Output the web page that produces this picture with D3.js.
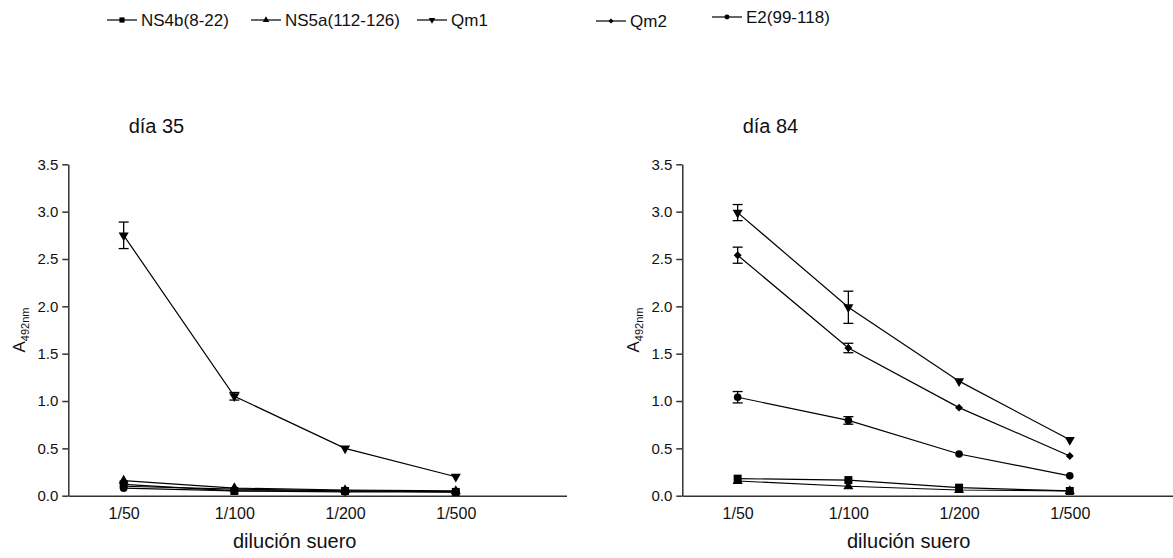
<!DOCTYPE html>
<meta charset="utf-8">
<script src="https://cdn.jsdelivr.net/npm/d3@7"></script>
<style>
  body { margin: 0; background: #fff; }
  text { font-family: "Liberation Sans", Arial, sans-serif; fill: #111; }
</style>
<body>
<script>

// dilution categories (x axis)
var dilutions = ["1/50", "1/100", "1/200", "1/500"]
var yTicks = [0.0, 0.5, 1.0, 1.5, 2.0, 2.5, 3.0, 3.5]

var seriesNames = ["NS4b(8-22)", "NS5a(112-126)", "Qm1", "Qm2", "E2(99-118)"]
var seriesSymbols = ["square", "triUp", "triDown", "diamond", "circle"]

// día 35
var d35_NS4b = [0.12, 0.05, 0.05, 0.04]
var d35_NS5a = [0.16, 0.08, 0.06, 0.05]
var d35_Qm1  = [2.75, 1.05, 0.50, 0.20]
var d35_Qm2  = [0.10, 0.07, 0.05, 0.04]
var d35_E2   = [0.08, 0.05, 0.04, 0.04]
var d35_Qm1_err = [0.14, 0.04, 0, 0]

// día 84
var d84_NS4b = [0.18, 0.165, 0.085, 0.05]
var d84_NS5a = [0.155, 0.10, 0.06, 0.05]
var d84_Qm1  = [2.99, 1.99, 1.21, 0.59]
var d84_Qm2  = [2.54, 1.56, 0.93, 0.42]
var d84_E2   = [1.04, 0.795, 0.44, 0.21]
var d84_Qm1_err = [0.085, 0.17, 0, 0]
var d84_Qm2_err = [0.085, 0.05, 0, 0]
var d84_E2_err  = [0.06, 0.04, 0, 0]

var zero = [0, 0, 0, 0]

var panels = [
  { title: "día 35", left: 68.3, values: [d35_NS4b, d35_NS5a, d35_Qm1, d35_Qm2, d35_E2],
    errors: [zero, zero, d35_Qm1_err, zero, zero] },
  { title: "día 84", left: 682.3, values: [d84_NS4b, d84_NS5a, d84_Qm1, d84_Qm2, d84_E2],
    errors: [zero, zero, d84_Qm1_err, d84_Qm2_err, d84_E2_err] }
]

var width = 1173, height = 558
var svg = d3.select("body").append("svg")
            .attr("width", width)
            .attr("height", height)

// marker shapes
function symbolPath(kind, big) {
  var k = big ? 1 : 0.65
  if (kind == "square") return d3.symbol().type(d3.symbolSquare).size(64 * k * k)()
  if (kind == "triUp" || kind == "triDown") return d3.symbol().type(d3.symbolTriangle).size(44 * k * k)()
  if (kind == "diamond") return d3.symbol().type(d3.symbolDiamond2).size(40 * k * k)()
  return d3.symbol().type(d3.symbolCircle).size(46 * k * k)()
}
function symbolTransform(kind, x, y) {
  return "translate(" + x + "," + y + ")" + (kind == "triDown" ? " rotate(180)" : "")
}

var y = d3.scaleLinear().domain([0, 3.5]).range([495.7, 164.3])
var line = d3.line()

panels.forEach(function(p) {
  var x = d3.scaleLinear().domain([-0.5, 4]).range([p.left, p.left + 498.2])
  var g = svg.append("g")

  // y axis
  var ya = g.append("g")
    .attr("transform", "translate(" + p.left + ",0)")
    .call(d3.axisLeft(y).tickValues(yTicks).tickFormat(d3.format(".1f")).tickSize(6).tickSizeOuter(0).tickPadding(4))
  ya.selectAll("text").style("font-size", "15px").style("font-family", "Liberation Sans, Arial, sans-serif").attr("fill", "#111")
  ya.selectAll("line,path").attr("stroke", "#333").attr("stroke-width", 1.5)

  // x axis
  var xa = g.append("g")
    .attr("transform", "translate(0," + y(0) + ")")
    .call(d3.axisBottom(x).tickValues([0, 1, 2, 3]).tickFormat(function(i) { return dilutions[i] })
            .tickSize(0).tickPadding(12))
  xa.selectAll("text").style("font-size", "16px").style("font-family", "Liberation Sans, Arial, sans-serif").attr("fill", "#111")
  xa.selectAll("path").attr("stroke", "#333").attr("stroke-width", 1.5)

  // titles
  g.append("text").attr("x", x(0) + 5).attr("y", 133).style("font-size", "20px").text(p.title)
  g.append("text").attr("x", (x(0) + x(3)) / 2 + 5).attr("y", 548)
    .attr("text-anchor", "middle").style("font-size", "20px").text("dilución suero")
  var yl = g.append("text")
    .attr("transform", "translate(" + (p.left - 43) + "," + 330 + ") rotate(-90)")
    .attr("text-anchor", "middle").style("font-size", "17px")
  yl.append("tspan").text("A")
  yl.append("tspan").attr("dy", 4).style("font-size", "11px").text("492nm")

  // series
  p.values.forEach(function(vals, s) {
    var pts = vals.map(function(v, i) { return [x(i), y(v)] })
    g.append("path").attr("d", line(pts)).attr("fill", "none")
      .attr("stroke", "#000").attr("stroke-width", 1.2)

    // error bars
    vals.forEach(function(v, i) {
      var e = p.errors[s][i]
      if (!e) return
      var cx = x(i)
      g.append("line").attr("x1", cx).attr("x2", cx).attr("y1", y(v - e)).attr("y2", y(v + e))
        .attr("stroke", "#000").attr("stroke-width", 1.3)
      ;[v - e, v + e].forEach(function(ev) {
        g.append("line").attr("x1", cx - 5).attr("x2", cx + 5).attr("y1", y(ev)).attr("y2", y(ev))
          .attr("stroke", "#000").attr("stroke-width", 1.3)
      })
    })

    g.selectAll(null).data(vals).enter().append("path")
      .attr("d", symbolPath(seriesSymbols[s], true))
      .attr("transform", function(v, i) { return symbolTransform(seriesSymbols[s], x(i), y(v)) })
      .attr("fill", "#000")
  })
})

// legend
var legendX = [107, 251, 417, 596, 712]
var legendY = [20, 20, 20, 21, 17]
seriesNames.forEach(function(name, s) {
  var lg = svg.append("g").attr("transform", "translate(" + legendX[s] + "," + legendY[s] + ")")
  lg.append("line").attr("x1", 0).attr("x2", 30).attr("y1", 0).attr("y2", 0)
    .attr("stroke", "#000").attr("stroke-width", 1.2)
  lg.append("path").attr("d", symbolPath(seriesSymbols[s], false))
    .attr("transform", symbolTransform(seriesSymbols[s], 15, 0)).attr("fill", "#000")
  lg.append("text").attr("x", 34).attr("y", 6).style("font-size", "17px").text(name)
})

</script>
</body>
